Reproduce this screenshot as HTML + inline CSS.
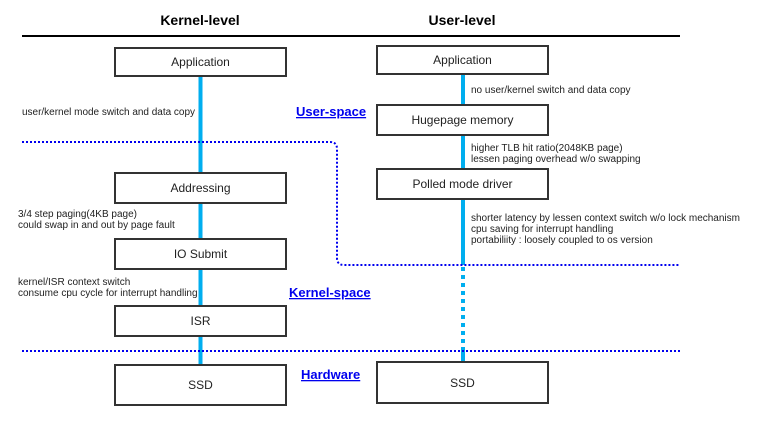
<!DOCTYPE html>
<html><head><meta charset="utf-8"><style>
html,body{margin:0;padding:0;background:#fff;}
svg{display:block;font-family:"Liberation Sans",Arial,sans-serif;}
</style></head><body>
<svg width="767" height="425" viewBox="0 0 767 425" xmlns="http://www.w3.org/2000/svg">
<text x="200" y="25" font-size="14" font-weight="bold" text-anchor="middle" fill="#000">Kernel-level</text>
<text x="462" y="25" font-size="14" font-weight="bold" text-anchor="middle" fill="#000">User-level</text>
<line x1="22" y1="36" x2="680" y2="36" stroke="#000" stroke-width="2"/>
<line x1="200.5" y1="76" x2="200.5" y2="366" stroke="#00aeef" stroke-width="4"/>
<line x1="463" y1="74" x2="463" y2="265" stroke="#00aeef" stroke-width="4"/>
<line x1="463" y1="267" x2="463" y2="351" stroke="#00aeef" stroke-width="4" stroke-dasharray="4,4"/>
<line x1="463" y1="351" x2="463" y2="362" stroke="#00aeef" stroke-width="4"/>
<path d="M22 142 H330 Q337 142 337 149 V258 Q337 265 344 265 H680" fill="none" stroke="#0000ee" stroke-width="2" stroke-dasharray="2,2"/>
<line x1="22" y1="351" x2="680" y2="351" stroke="#0000ee" stroke-width="2" stroke-dasharray="2,2"/>
<g fill="#fff" stroke="#333" stroke-width="2">
<rect x="115" y="48" width="171" height="28"/>
<rect x="115" y="173" width="171" height="30"/>
<rect x="115" y="239" width="171" height="30"/>
<rect x="115" y="306" width="171" height="30"/>
<rect x="115" y="365" width="171" height="40"/>
<rect x="377" y="46" width="171" height="28"/>
<rect x="377" y="105" width="171" height="30"/>
<rect x="377" y="169" width="171" height="30"/>
<rect x="377" y="362" width="171" height="41"/>
</g>
<g font-size="12" text-anchor="middle" fill="#222">
<text x="200.5" y="66">Application</text>
<text x="200.5" y="192">Addressing</text>
<text x="200.5" y="258">IO Submit</text>
<text x="200.5" y="325">ISR</text>
<text x="200.5" y="389">SSD</text>
<text x="462.5" y="64">Application</text>
<text x="462.5" y="124">Hugepage memory</text>
<text x="462.5" y="188">Polled mode driver</text>
<text x="462.5" y="387">SSD</text>
</g>
<g font-size="10" fill="#222">
<text x="22" y="115" textLength="173">user/kernel mode switch and data copy</text>
<text x="18" y="217">3/4 step paging(4KB page)</text>
<text x="18" y="228">could swap in and out by page fault</text>
<text x="18" y="285">kernel/ISR context switch</text>
<text x="18" y="296">consume cpu cycle for interrupt handling</text>
<text x="471" y="93">no user/kernel switch and data copy</text>
<text x="471" y="151">higher TLB hit ratio(2048KB page)</text>
<text x="471" y="162">lessen paging overhead w/o swapping</text>
<text x="471" y="221" textLength="269">shorter latency by lessen context switch w/o lock mechanism</text>
<text x="471" y="232">cpu saving for interrupt handling</text>
<text x="471" y="243">portabiliity : loosely coupled to os version</text>
</g>
<g font-size="13" font-weight="bold" fill="#0000ee" text-decoration="underline">
<text x="296" y="116">User-space</text>
<text x="289" y="297">Kernel-space</text>
<text x="301" y="379">Hardware</text>
</g>
</svg>
</body></html>
